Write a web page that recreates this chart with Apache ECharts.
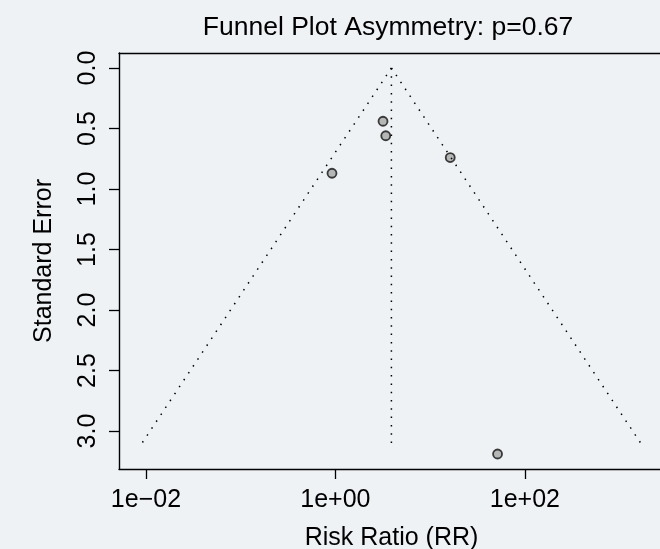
<!DOCTYPE html>
<html>
<head>
<meta charset="utf-8">
<script src="https://cdn.jsdelivr.net/npm/echarts@6/dist/echarts.min.js"></script>
<style>
html,body{margin:0;padding:0;background:#eef2f5;}
#chart{width:660px;height:549px;}
</style>
</head>
<body>
<div id="chart"></div>
<script>
// Study data (risk ratio, standard error)
const studyRR = [3.18, 3.40, 16.3, 0.92, 51.5];
const studySE = [0.44, 0.56, 0.74, 0.87, 3.19];
// Pooled estimate and funnel (pseudo 95% CI) limits
const estimateRR = 3.90;
const funnelSE = [0, 3.14];
const funnelLowerRR = [3.90, 0.0084];
const funnelUpperRR = [3.90, 1807];
// Axis ticks
const xTickValues = [0.01, 1, 100];
const xTickLabels = ['1e\u221202', '1e+00', '1e+02'];
const yTickValues = [0, 0.5, 1, 1.5, 2, 2.5, 3];
const yTickLabels = ['0.0', '0.5', '1.0', '1.5', '2.0', '2.5', '3.0'];

const FONT = '"Liberation Sans", Arial, Helvetica, sans-serif';
const chart = echarts.init(document.getElementById('chart'));

const dotted = { color: '#000', width: 1.5, type: [1.5, 6.8], cap: 'butt' };
const axisLineStyle = { color: '#000', width: 1.4 };

chart.setOption({
  backgroundColor: '#eef2f5',
  animation: false,
  title: {
    text: 'Funnel Plot Asymmetry: p=0.67',
    left: 383,
    textAlign: 'center',
    top: 9,
    textStyle: { fontFamily: FONT, fontSize: 26.5, fontWeight: 'normal', color: '#000' }
  },
  grid: { left: 119, top: 53, width: 545, height: 416, show: false, outerBoundsMode: 'none', containLabel: false },
  xAxis: [{
    type: 'log',
    logBase: 10,
    position: 'bottom',
    min: 0.00519,
    max: 2944,
    name: 'Risk Ratio (RR)',
    nameLocation: 'middle',
    nameGap: 57,
    nameTextStyle: { fontFamily: FONT, fontSize: 25, color: '#000' },
    axisLine: { show: true, onZero: false, lineStyle: axisLineStyle },
    splitLine: { show: false },
    minorTick: { show: false },
    axisTick: { show: true, length: 10, lineStyle: { color: '#000', width: 1.3 }, customValues: xTickValues },
    axisLabel: {
      fontFamily: FONT, fontSize: 25, color: '#000', margin: 19,
      customValues: xTickValues,
      formatter: function (v) {
        const e = Math.round(Math.log10(v));
        const i = xTickValues.findIndex(t => Math.round(Math.log10(t)) === e);
        return i >= 0 ? xTickLabels[i] : '';
      }
    }
  }, {
    type: 'log',
    logBase: 10,
    position: 'top',
    min: 0.00519,
    max: 2944,
    axisLine: { show: true, onZero: false, lineStyle: axisLineStyle },
    axisTick: { show: false },
    axisLabel: { show: false },
    splitLine: { show: false },
    minorTick: { show: false }
  }],
  yAxis: {
    type: 'value',
    inverse: true,
    min: -0.124,
    max: 3.314,
    name: 'Standard Error',
    nameLocation: 'middle',
    nameGap: 62,
    nameTextStyle: { fontFamily: FONT, fontSize: 25, color: '#000' },
    axisLine: { show: true, onZero: false, lineStyle: axisLineStyle },
    splitLine: { show: false },
    axisTick: { show: true, length: 10, lineStyle: { color: '#000', width: 1.3 }, customValues: yTickValues },
    axisLabel: {
      fontFamily: FONT, fontSize: 25, color: '#000', margin: 18, rotate: 90,
      customValues: yTickValues,
      formatter: function (v) {
        const i = yTickValues.findIndex(t => Math.abs(t - v) < 1e-6);
        return i >= 0 ? yTickLabels[i] : '';
      }
    }
  },
  series: [
    {
      type: 'line', data: funnelSE.map((s, i) => [funnelLowerRR[i], s]),
      symbol: 'none', lineStyle: dotted, silent: true
    },
    {
      type: 'line', data: funnelSE.map((s, i) => [funnelUpperRR[i], s]),
      symbol: 'none', lineStyle: dotted, silent: true
    },
    {
      type: 'line', data: funnelSE.map(s => [estimateRR, s]),
      symbol: 'none', lineStyle: dotted, silent: true
    },
    {
      type: 'scatter',
      data: studyRR.map((r, i) => [r, studySE[i]]),
      symbol: 'circle', symbolSize: 9,
      itemStyle: { color: '#a6a6a6', borderColor: '#111', borderWidth: 1.8 }
    }
  ]
});
</script>
</body>
</html>
